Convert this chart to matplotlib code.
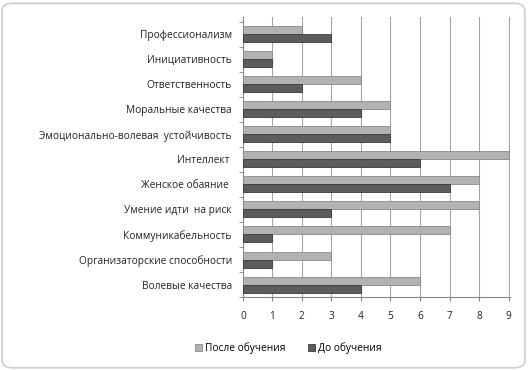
import numpy as np
import matplotlib.pyplot as plt
from matplotlib.patches import FancyBboxPatch

# категории снизу вверх
categories = ["Волевые качества", "Организаторские способности", "Коммуникабельность",
              "Умение идти  на риск", "Женское обаяние ", "Интеллект ",
              "Эмоционально-волевая  устойчивость", "Моральные качества",
              "Ответственность", "Инициативность", "Профессионализм"]
after = [6, 3, 7, 8, 8, 9, 5, 5, 4, 1, 2]
before = [4, 1, 1, 3, 7, 6, 5, 4, 2, 1, 3]
xticks = list(range(10))

plt.rcParams['font.family'] = ['Open Sans', 'DejaVu Sans']

fig = plt.figure(figsize=(5.28, 3.70), dpi=100)
fig.patches.append(FancyBboxPatch((0.004, 0.006), 0.99, 0.985,
                                  boxstyle="round,pad=0,rounding_size=0.02",
                                  transform=fig.transFigure, fill=False,
                                  edgecolor="#c8ced6", linewidth=1.2))

ax = fig.add_axes([0.460, 0.197, 0.506, 0.757])
y = np.arange(len(categories))
h = 0.32

ax.barh(y + h / 2, after, height=h, color="#b2b2b2", edgecolor="#8a8a8a", linewidth=0.6,
        label="После обучения", zorder=3)
ax.barh(y - h / 2, before, height=h, color="#5c5c5c", edgecolor="#3a3a3a", linewidth=0.6,
        label="До обучения", zorder=3)

ax.set_xlim(0, 9.05)
ax.set_ylim(-0.48, 10.68)
ax.set_xticks(xticks)
ax.set_yticks(y)
ax.set_yticklabels(categories)
ax.set_yticks(np.arange(-0.5, 10.6, 1), minor=True)
ax.tick_params(axis='y', which='major', length=0, pad=8, labelsize=7.3, colors="#222222")
ax.tick_params(axis='y', which='minor', length=3, color="#888888")
ax.tick_params(axis='x', length=3, color="#888888", labelsize=7.3, pad=7, colors="#222222")

ax.grid(axis='x', color="#a6a6a6", linewidth=0.8, zorder=0)
for s in ["top", "right"]:
    ax.spines[s].set_visible(False)
ax.spines["left"].set_color("#888888")
ax.spines["bottom"].set_color("#888888")

ax.legend(loc="upper center", bbox_to_anchor=(0.17, -0.13), ncol=2, frameon=False,
          fontsize=7.3, handlelength=0.7, handleheight=0.7, columnspacing=2.2,
          handletextpad=0.3)

fig.savefig("out.png", dpi=100)
